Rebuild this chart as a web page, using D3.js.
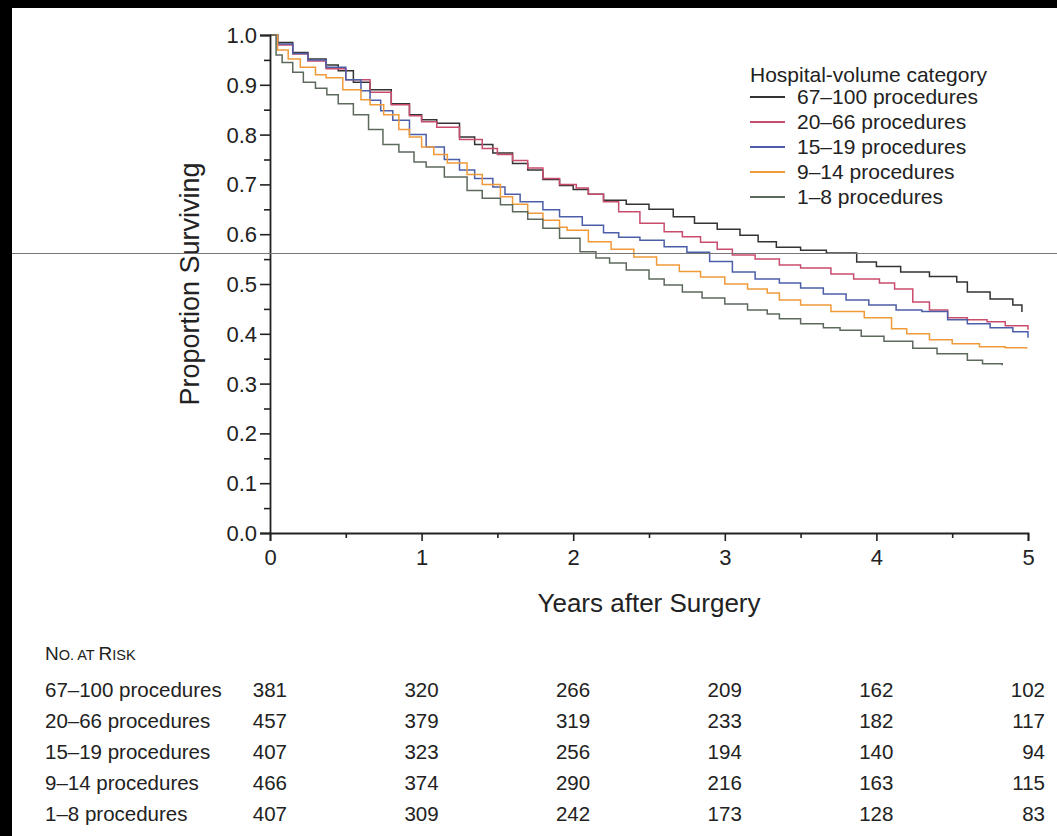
<!DOCTYPE html>
<html>
<head>
<meta charset="utf-8">
<script src="https://cdn.jsdelivr.net/npm/d3@7"></script>
<style>
  body { margin: 0; background: #fff; }
  svg { display: block; font-family: "Liberation Sans", Arial, sans-serif; }
</style>
</head>
<body>
<div id="chart"></div>
<script>
// ---- data ----
const groups = ["67\u2013100 procedures", "20\u201366 procedures", "15\u201319 procedures", "9\u201314 procedures", "1\u20138 procedures"];

const surv67_100 = [[0,1],[0.05,0.985],[0.15,0.965],[0.25,0.952],[0.37,0.94],[0.45,0.928],[0.55,0.905],[0.66,0.89],[0.8,0.862],[0.92,0.84],[1.0,0.83],[1.1,0.823],[1.25,0.795],[1.35,0.78],[1.47,0.763],[1.6,0.742],[1.7,0.729],[1.8,0.71],[1.91,0.698],[2.0,0.69],[2.1,0.68],[2.2,0.668],[2.35,0.66],[2.5,0.65],[2.66,0.635],[2.8,0.622],[2.95,0.61],[3.1,0.598],[3.22,0.585],[3.34,0.574],[3.5,0.568],[3.67,0.562],[3.87,0.544],[4.0,0.535],[4.16,0.524],[4.35,0.515],[4.53,0.504],[4.6,0.484],[4.75,0.47],[4.9,0.458],[4.96,0.444]];
const surv20_66 = [[0,1],[0.05,0.98],[0.15,0.962],[0.25,0.948],[0.37,0.932],[0.5,0.91],[0.66,0.885],[0.8,0.86],[0.92,0.838],[1.0,0.826],[1.1,0.815],[1.25,0.79],[1.4,0.772],[1.5,0.76],[1.6,0.748],[1.7,0.733],[1.8,0.712],[1.91,0.7],[2.02,0.693],[2.1,0.68],[2.2,0.665],[2.3,0.645],[2.44,0.622],[2.6,0.605],[2.72,0.595],[2.84,0.584],[2.95,0.57],[3.05,0.558],[3.2,0.55],[3.36,0.538],[3.5,0.532],[3.7,0.52],[3.85,0.51],[4.02,0.502],[4.12,0.49],[4.24,0.464],[4.35,0.448],[4.47,0.432],[4.6,0.428],[4.73,0.424],[4.85,0.416],[5.0,0.408]];
const surv15_19 = [[0,1],[0.05,0.982],[0.15,0.963],[0.25,0.95],[0.37,0.935],[0.5,0.91],[0.6,0.888],[0.66,0.869],[0.73,0.848],[0.81,0.829],[0.92,0.8],[1.03,0.775],[1.15,0.75],[1.25,0.729],[1.35,0.712],[1.47,0.695],[1.55,0.68],[1.65,0.665],[1.8,0.649],[1.91,0.635],[2.06,0.618],[2.2,0.603],[2.3,0.594],[2.44,0.588],[2.6,0.575],[2.75,0.564],[2.9,0.545],[3.05,0.524],[3.2,0.51],[3.36,0.502],[3.5,0.492],[3.65,0.48],[3.8,0.468],[3.95,0.458],[4.13,0.448],[4.3,0.445],[4.47,0.428],[4.6,0.42],[4.75,0.412],[4.9,0.404],[5.0,0.392]];
const surv9_14 = [[0,1],[0.05,0.97],[0.12,0.952],[0.2,0.935],[0.3,0.92],[0.37,0.914],[0.48,0.89],[0.6,0.87],[0.66,0.86],[0.75,0.84],[0.85,0.81],[0.92,0.795],[1.0,0.775],[1.08,0.76],[1.17,0.743],[1.3,0.72],[1.4,0.7],[1.52,0.675],[1.6,0.66],[1.7,0.642],[1.8,0.628],[1.91,0.614],[1.96,0.608],[2.1,0.585],[2.25,0.57],[2.4,0.554],[2.55,0.538],[2.7,0.525],[2.84,0.514],[3.0,0.5],[3.15,0.49],[3.28,0.482],[3.36,0.468],[3.5,0.458],[3.7,0.445],[3.92,0.432],[4.1,0.41],[4.2,0.4],[4.35,0.388],[4.5,0.38],[4.68,0.374],[4.85,0.372],[4.99,0.37]];
const surv1_8 = [[0,1],[0.04,0.96],[0.08,0.945],[0.15,0.925],[0.22,0.905],[0.3,0.893],[0.375,0.88],[0.45,0.862],[0.55,0.84],[0.65,0.81],[0.745,0.78],[0.85,0.765],[0.95,0.745],[1.03,0.735],[1.15,0.715],[1.3,0.688],[1.4,0.672],[1.52,0.659],[1.6,0.645],[1.7,0.63],[1.8,0.612],[1.91,0.592],[2.045,0.565],[2.15,0.552],[2.24,0.542],[2.35,0.528],[2.5,0.51],[2.6,0.498],[2.72,0.484],[2.85,0.472],[3.0,0.46],[3.15,0.448],[3.28,0.44],[3.36,0.43],[3.5,0.42],[3.65,0.412],[3.76,0.407],[3.9,0.395],[4.05,0.385],[4.24,0.371],[4.4,0.36],[4.6,0.347],[4.7,0.34],[4.83,0.337]];

const riskTimes = [0, 1, 2, 3, 4, 5];
const risk67_100 = [381, 320, 266, 209, 162, 102];
const risk20_66 = [457, 379, 319, 233, 182, 117];
const risk15_19 = [407, 323, 256, 194, 140, 94];
const risk9_14 = [466, 374, 290, 216, 163, 115];
const risk1_8 = [407, 309, 242, 173, 128, 83];

const yTicks = [0, 0.1, 0.2, 0.3, 0.4, 0.5, 0.6, 0.7, 0.8, 0.9, 1.0];
const xTicks = [0, 1, 2, 3, 4, 5];

const survival = [surv67_100, surv20_66, surv15_19, surv9_14, surv1_8];
const atRisk = [risk67_100, risk20_66, risk15_19, risk9_14, risk1_8];

// ---- layout ----
const W = 1057, H = 836;
const svg = d3.select("#chart").append("svg").attr("width", W).attr("height", H);

const x = d3.scaleLinear().domain([0, 5]).range([270, 1028]);
const y = d3.scaleLinear().domain([0, 1]).range([533, 35]);
const color = d3.scaleOrdinal().domain(groups)
  .range(["#333333", "#c84c6c", "#4d5ea8", "#f09a3a", "#5c6a5c"]);

// scan frame of the source image
svg.append("rect").attr("x", 0).attr("y", 0).attr("width", W).attr("height", 8).attr("fill", "#000");
svg.append("rect").attr("x", 0).attr("y", 0).attr("width", 12).attr("height", H).attr("fill", "#000");

// curves
const line = d3.line().x(d => x(d[0])).y(d => y(d[1])).curve(d3.curveStepAfter);
svg.append("g").selectAll("path")
  .data(survival)
  .join("path")
  .attr("d", line)
  .attr("fill", "none")
  .attr("stroke", (d, i) => color(groups[i]))
  .attr("stroke-width", 1.5);

// y axis
const yAxis = svg.append("g").attr("transform", `translate(${x(0)},0)`)
  .call(d3.axisLeft(y).tickValues(yTicks).tickFormat(d3.format(".1f")).tickSize(10).tickPadding(3))
  .call(g => g.select(".domain").attr("stroke-width", 1.8).attr("stroke", "#222"));
yAxis.selectAll(".tick line").attr("stroke-width", 1.6).attr("stroke", "#222");
yAxis.selectAll("text").attr("font-size", 22).attr("dy", "0.34em").attr("fill", "#222").attr("font-family", "Liberation Sans, Arial, sans-serif");
// minor y ticks
svg.append("g").attr("transform", `translate(${x(0)},0)`)
  .call(d3.axisLeft(y).tickValues(d3.range(0.05, 1, 0.1)).tickSize(6).tickFormat(""))
  .call(g => g.select(".domain").remove())
  .selectAll("line").attr("stroke-width", 1.6).attr("stroke", "#222");

// x axis
const xAxis = svg.append("g").attr("transform", `translate(0,${y(0)})`)
  .call(d3.axisBottom(x).tickValues(xTicks).tickFormat(d3.format("d")).tickSize(8).tickPadding(8))
  .call(g => g.select(".domain").attr("stroke-width", 1.8).attr("stroke", "#222"));
xAxis.selectAll(".tick line").attr("stroke-width", 1.6).attr("stroke", "#222");
xAxis.selectAll("text").attr("font-size", 22).attr("fill", "#222").attr("font-family", "Liberation Sans, Arial, sans-serif");
svg.append("g").attr("transform", `translate(0,${y(0)})`)
  .call(d3.axisBottom(x).tickValues(d3.range(0.5, 5, 1)).tickSize(5).tickFormat(""))
  .call(g => g.select(".domain").remove())
  .selectAll("line").attr("stroke-width", 1.6).attr("stroke", "#222");

// axis titles
svg.append("text")
  .attr("x", (x(0) + x(5)) / 2).attr("y", 612)
  .attr("text-anchor", "middle").attr("font-size", 26).attr("fill", "#222")
  .text("Years after Surgery");
svg.append("text")
  .attr("transform", `translate(199,${(y(0) + y(1)) / 2}) rotate(-90)`)
  .attr("text-anchor", "middle").attr("font-size", 27).attr("fill", "#222")
  .text("Proportion Surviving");

// legend
const legend = svg.append("g").attr("transform", "translate(750,0)");
legend.append("text").attr("x", 0).attr("y", 82).attr("font-size", 21).attr("fill", "#222")
  .text("Hospital-volume category");
const li = legend.selectAll(".li").data(groups).join("g")
  .attr("class", "li")
  .attr("transform", (d, i) => `translate(0,${97 + i * 25})`);
li.append("line").attr("x1", 0).attr("x2", 35).attr("stroke", d => color(d)).attr("stroke-width", 2);
li.append("text").attr("x", 47).attr("y", 7).attr("font-size", 21).attr("fill", "#222").text(d => d);

// number at risk
const risk = svg.append("g");
const title = risk.append("text").attr("x", 45).attr("y", 660).attr("fill", "#222");
title.append("tspan").attr("font-size", 19).text("N");
title.append("tspan").attr("font-size", 14.5).text("O. AT ");
title.append("tspan").attr("font-size", 19).text("R");
title.append("tspan").attr("font-size", 14.5).text("ISK");

const rows = risk.selectAll(".row").data(groups).join("g")
  .attr("class", "row")
  .attr("transform", (d, i) => `translate(0,${697 + i * 31})`);
rows.append("text").attr("x", 45).attr("font-size", 20.5).attr("fill", "#222").text(d => d);
rows.each(function (d, i) {
  d3.select(this).selectAll(".n").data(atRisk[i]).join("text")
    .attr("class", "n")
    .attr("x", (v, j) => x(riskTimes[j]) + 17)
    .attr("text-anchor", "end").attr("font-size", 20.5).attr("fill", "#222")
    .text(v => v);
});

// thin scan line across the source image
svg.append("line").attr("x1", 12).attr("x2", W).attr("y1", 253.5).attr("y2", 253.5)
  .attr("stroke", "#777").attr("stroke-width", 1);
</script>
</body>
</html>
